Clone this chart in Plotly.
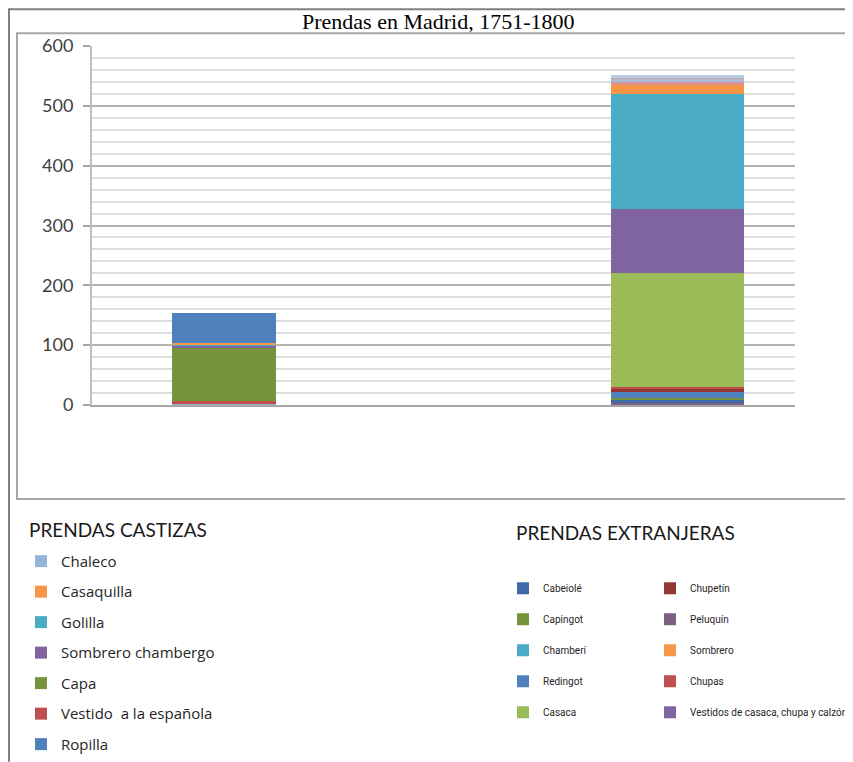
import plotly.graph_objects as go

# Prendas castizas (bottom -> top of the stack)
castizas_nombres = ["Chaleco", "Vestido  a la española", "Capa", "Sombrero chambergo",
                    "Golilla", "Casaquilla", "Ropilla"]
castizas_valores = [3, 3, 89, 5, 1, 2, 50]
castizas_colores = ["#95b3d7", "#c0504d", "#77933c", "#8064a2", "#4bacc6", "#f79646", "#4f81bd"]
castizas_orden_leyenda = [1, 6, 5, 4, 3, 2, 7]

# Prendas extranjeras (bottom -> top of the stack)
extranjeras_nombres = ["Peluquín", "Cabeiolé", "Capingot", "Redingot", "Chupetín", "Chupas",
                       "Casaca", "Vestidos de casaca, chupa y calzón", "Chamberí", "Sombrero"]
extranjeras_valores = [3, 5, 4, 9, 5, 4, 190, 108, 192, 14]
extranjeras_colores = ["#7f6084", "#3f6aa8", "#77933c", "#4f81bd", "#953735", "#c0504d",
                       "#9bbb59", "#8064a2", "#4bacc6", "#f79646"]
extranjeras_columna = [2, 1, 1, 1, 2, 2, 1, 2, 1, 2]
extranjeras_orden_leyenda = [2, 1, 2, 4, 1, 4, 5, 5, 3, 3]

# thin unlabeled layers at the top of the foreign bar
otras_valores = [6, 5, 3, 3]
otras_colores = ["#d99694", "#a9bcd6", "#d4a5a5", "#b7cde5"]

# the page body has an 8px margin, so the figure is drawn 8px smaller
OFF = 8
FIG_W, FIG_H = 853 - OFF, 762 - OFF
L, R, T, B = 92, 795, 45.7, 405          # plot area, page pixels
W, H = R - L, B - T


def px(x):
    return (x - L) / W


def py(y):
    return (B - y) / H


fig = go.Figure()

for n, v, c, r in zip(castizas_nombres, castizas_valores, castizas_colores, castizas_orden_leyenda):
    fig.add_trace(go.Bar(
        x=[0], y=[v], name=n, width=0.23, marker=dict(color=c, line=dict(width=0)),
        legend="legend", legendgroup=n, legendrank=r,
    ))

for n, v, c, col, r in zip(extranjeras_nombres, extranjeras_valores, extranjeras_colores,
                           extranjeras_columna, extranjeras_orden_leyenda):
    fig.add_trace(go.Bar(
        x=[1], y=[v], name=n, width=0.295, marker=dict(color=c, line=dict(width=0)),
        legend="legend2" if col == 1 else "legend3", legendgroup=n, legendrank=r,
    ))

for i, (v, c) in enumerate(zip(otras_valores, otras_colores)):
    fig.add_trace(go.Bar(
        x=[1], y=[v], name=f"Otras {i + 1}", width=0.295,
        marker=dict(color=c, line=dict(width=0)), showlegend=False,
    ))

leg_base = dict(bgcolor="rgba(0,0,0,0)", borderwidth=0, traceorder="grouped",
                xanchor="left", yanchor="top", orientation="v")
narrow = dict(size=10, color="#262626", family="Roboto, Liberation Sans, sans-serif")

fig.update_layout(
    barmode="stack",
    width=FIG_W, height=FIG_H,
    margin=dict(l=L - OFF, r=853 - R, t=T - OFF, b=762 - B, autoexpand=False),
    paper_bgcolor="white", plot_bgcolor="white",
    font=dict(family="Lato, Open Sans, sans-serif", color="#404040"),
    bargap=0,
    xaxis=dict(
        range=[-(224 - L) / 453.5, 1 + (R - 677.5) / 453.5],
        showticklabels=False, showgrid=False, zeroline=False,
        showline=True, linecolor="#a6a6a6", linewidth=2, ticks="",
    ),
    yaxis=dict(
        range=[0, 600], dtick=100, showline=True, linecolor="#bfbfbf", linewidth=2,
        ticks="outside", ticklen=7, tickcolor="#a6a6a6", tickwidth=2,
        ticklabelstandoff=6,
        showgrid=True, gridcolor="#b3b3b3", gridwidth=2, zeroline=False,
        tickfont=dict(size=18, family="Lato, Open Sans, sans-serif", color="#404040"),
        minor=dict(dtick=20, showgrid=True, gridcolor="#dedede", gridwidth=2),
    ),
    legend=dict(**leg_base, x=px(21), y=py(545), tracegroupgap=8,
                font=dict(size=15, color="#262626", family="Open Sans, Lato, sans-serif")),
    legend2=dict(**leg_base, x=px(503), y=py(574), tracegroupgap=12, font=narrow),
    legend3=dict(**leg_base, x=px(650), y=py(574), tracegroupgap=12, font=narrow),
    showlegend=True,
)

# title and legend headings
fig.add_annotation(text="Prendas en Madrid, 1751-1800", xref="paper", yref="paper",
                   x=px(438), y=py(21), xanchor="center", yanchor="middle", showarrow=False,
                   font=dict(family="Liberation Serif, Times New Roman, serif", size=22, color="#000000"))
fig.add_annotation(text="PRENDAS CASTIZAS", xref="paper", yref="paper",
                   x=px(27), y=py(530), xanchor="left", yanchor="middle", showarrow=False,
                   font=dict(size=19, color="#1a1a1a"))
fig.add_annotation(text="PRENDAS EXTRANJERAS", xref="paper", yref="paper",
                   x=px(514), y=py(533), xanchor="left", yanchor="middle", showarrow=False,
                   font=dict(size=19, color="#1a1a1a"))

# frames
fig.add_shape(type="rect", xref="paper", yref="paper", x0=px(17), x1=px(847), y0=py(33), y1=py(499),
              line=dict(color="#a6a6a6", width=2), layer="below")
fig.add_shape(type="line", xref="paper", yref="paper", x0=px(OFF + 1), x1=px(OFF + 1), y0=py(9), y1=py(762),
              line=dict(color="#808080", width=2))
fig.add_shape(type="line", xref="paper", yref="paper", x0=px(OFF), x1=px(853), y0=py(9), y1=py(9),
              line=dict(color="#808080", width=2))

fig.write_html("out.html")
